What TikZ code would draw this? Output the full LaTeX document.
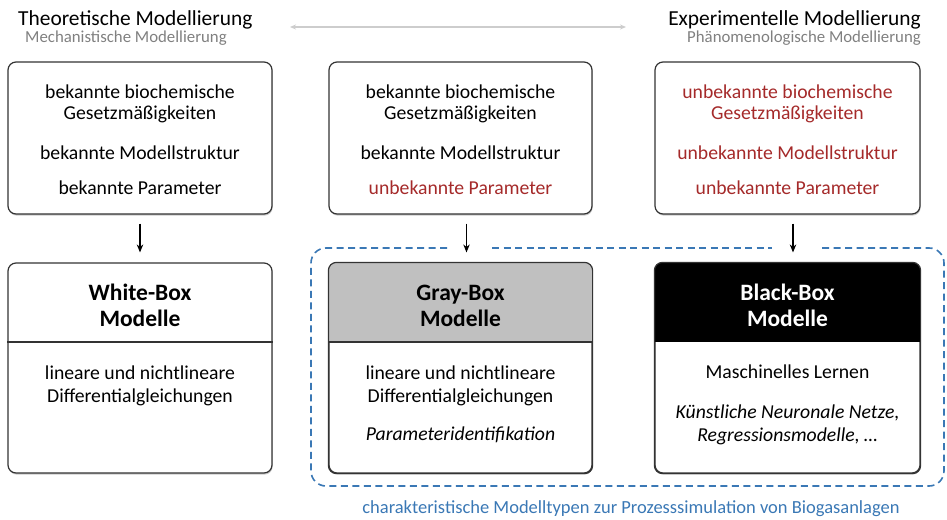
\documentclass[tikz,border=0pt]{standalone}
\usepackage{fontspec}
\setmainfont{Carlito}
\usetikzlibrary{arrows.meta,shadows}
\definecolor{boxline}{HTML}{333333}
\definecolor{redtxt}{HTML}{A52A2A}
\definecolor{bluedash}{HTML}{3A78B5}
\definecolor{subgray}{HTML}{808080}
\definecolor{graybox}{HTML}{C0C0C0}
\tikzset{
  box/.style={draw=boxline, fill=white, line width=1.2pt, rounded corners=8pt, inner sep=0pt,
    drop shadow={shadow xshift=0.6pt, shadow yshift=-1.6pt, opacity=0.35, fill=black!60}},
  frame/.style={draw=boxline, line width=1.2pt, rounded corners=8pt},
  txt/.style={inner sep=0pt, anchor=base, font=\fontsize{19.7}{23}\selectfont},
  itxt/.style={txt, font=\fontsize{19.7}{23}\selectfont\itshape},
  head/.style={inner sep=0pt, anchor=base, font=\fontsize{23.5}{27}\selectfont\bfseries},
  down/.style={-{Stealth[length=8pt,width=6.5pt]}, line width=1.1pt, black},
}
\begin{document}
\begin{tikzpicture}[x=1pt,y=-1pt]
\useasboundingbox (0,0) rectangle (947,519);

% headings
\node[inner sep=0pt, anchor=base west, font=\fontsize{21.4}{25}\selectfont] (th) at (18,26) {Theoretische Modellierung};
\node[inner sep=0pt, anchor=base west, font=\fontsize{16.8}{20}\selectfont, text=subgray] (ths) at (25,43) {Mechanistische Modellierung};
\node[inner sep=0pt, anchor=base east, font=\fontsize{21.4}{25}\selectfont] (eh) at (921,26) {Experimentelle Modellierung};
\node[inner sep=0pt, anchor=base east, font=\fontsize{16.8}{20}\selectfont, text=subgray] (ehs) at (921,43) {Phänomenologische Modellierung};
\coordinate (al) at (290,27);
\coordinate (ar) at (626,27);
\draw[{Stealth[length=6pt,width=5pt]}-{Stealth[length=6pt,width=5pt]}, line width=1.3pt, draw=graybox!80] (al) -- (ar);

% upper boxes
\node[box, minimum width=264pt, minimum height=152pt] (t1) at (140,138) {};
\node[box, minimum width=263pt, minimum height=152pt] (t2) at (460.5,138) {};
\node[box, minimum width=265pt, minimum height=152pt] (t3) at (787.5,138) {};

\node[txt] (t1a) at (140,98) {bekannte biochemische};
\node[txt] (t1b) at (140,119) {Gesetzmäßigkeiten};
\node[txt] (t1c) at (140,159) {bekannte Modellstruktur};
\node[txt] (t1d) at (140,194) {bekannte Parameter};

\node[txt] (t2a) at (460.5,98) {bekannte biochemische};
\node[txt] (t2b) at (460.5,119) {Gesetzmäßigkeiten};
\node[txt] (t2c) at (460.5,159) {bekannte Modellstruktur};
\node[txt, text=redtxt] (t2d) at (460.5,194) {unbekannte Parameter};

\node[txt, text=redtxt] (t3a) at (787.5,98) {unbekannte biochemische};
\node[txt, text=redtxt] (t3b) at (787.5,119) {Gesetzmäßigkeiten};
\node[txt, text=redtxt] (t3c) at (787.5,159) {unbekannte Modellstruktur};
\node[txt, text=redtxt] (t3d) at (787.5,194) {unbekannte Parameter};

% lower boxes
\node[box, minimum width=264pt, minimum height=210pt] (b1) at (140,368) {};
\node[box, minimum width=263pt, minimum height=210pt] (b2) at (460.5,368) {};
\node[box, minimum width=265pt, minimum height=210pt] (b3) at (787.5,368) {};

% header fills, clipped to the rounded outline, then the outline again on top
\begin{scope}
  \clip[rounded corners=8pt] (b2.south west) rectangle (b2.north east);
  \fill[graybox] (b2.north west) rectangle (b2.east |- 0,342);
\end{scope}
\begin{scope}
  \clip[rounded corners=8pt] (b3.south west) rectangle (b3.north east);
  \fill[black] (b3.north west) rectangle (b3.east |- 0,342);
\end{scope}
\draw[frame] (b2.south west) rectangle (b2.north east);
\draw[frame] (b3.south west) rectangle (b3.north east);
\draw[boxline, line width=1.2pt] (b1.west |- 0,342) -- (b1.east |- 0,342);
\draw[boxline, line width=1.2pt] (b2.west |- 0,342) -- (b2.east |- 0,342);

\node[head] (b1h) at (140,300) {White-Box};
\node[head] (b1m) at (140,326) {Modelle};
\node[head] (b2h) at (460.5,300) {Gray-Box};
\node[head] (b2m) at (460.5,326) {Modelle};
\node[head, text=white] (b3h) at (787.5,300) {Black-Box};
\node[head, text=white] (b3m) at (787.5,326) {Modelle};

\node[txt] (b1a) at (140,379) {lineare und nichtlineare};
\node[txt] (b1b) at (140,402) {Differentialgleichungen};

\node[txt] (b2a) at (460.5,379) {lineare und nichtlineare};
\node[txt] (b2b) at (460.5,402) {Differentialgleichungen};
\node[itxt] (b2c) at (460.5,440) {Parameteridentifikation};

\node[txt] (b3a) at (787.5,378) {Maschinelles Lernen};
\node[itxt] (b3b) at (787.5,418) {Künstliche Neuronale Netze,};
\node[itxt] (b3c) at (787.5,441) {Regressionsmodelle, …};

% arrows
\draw[down] ([yshift=-9pt]t1.south) -- ([yshift=10pt]b1.north);
\draw[down] ([xshift=6pt,yshift=-9pt]t2.south) -- ([xshift=6pt,yshift=10pt]b2.north);
\draw[down] ([xshift=5.5pt,yshift=-9pt]t3.south) -- ([xshift=5.5pt,yshift=10pt]b3.north);

% dashed frame around the data-driven model types
\coordinate (g1) at (447,248);
\coordinate (g2) at (492,248);
\coordinate (g3) at (772,248);
\coordinate (g4) at (820,248);
\begin{scope}[draw=bluedash, line width=1.6pt, dash pattern=on 7pt off 4.5pt]
  \draw[rounded corners=15pt] (g1) -- (311,248) -- (311,486) -- (944,486) -- (944,248) -- (g4);
  \draw (g2) -- (g3);
\end{scope}
\node[inner sep=0pt, anchor=base, text=bluedash, font=\fontsize{18.5}{22}\selectfont] (cap) at (631,513) {charakteristische Modelltypen zur Prozesssimulation von Biogasanlagen};
\end{tikzpicture}
\end{document}
